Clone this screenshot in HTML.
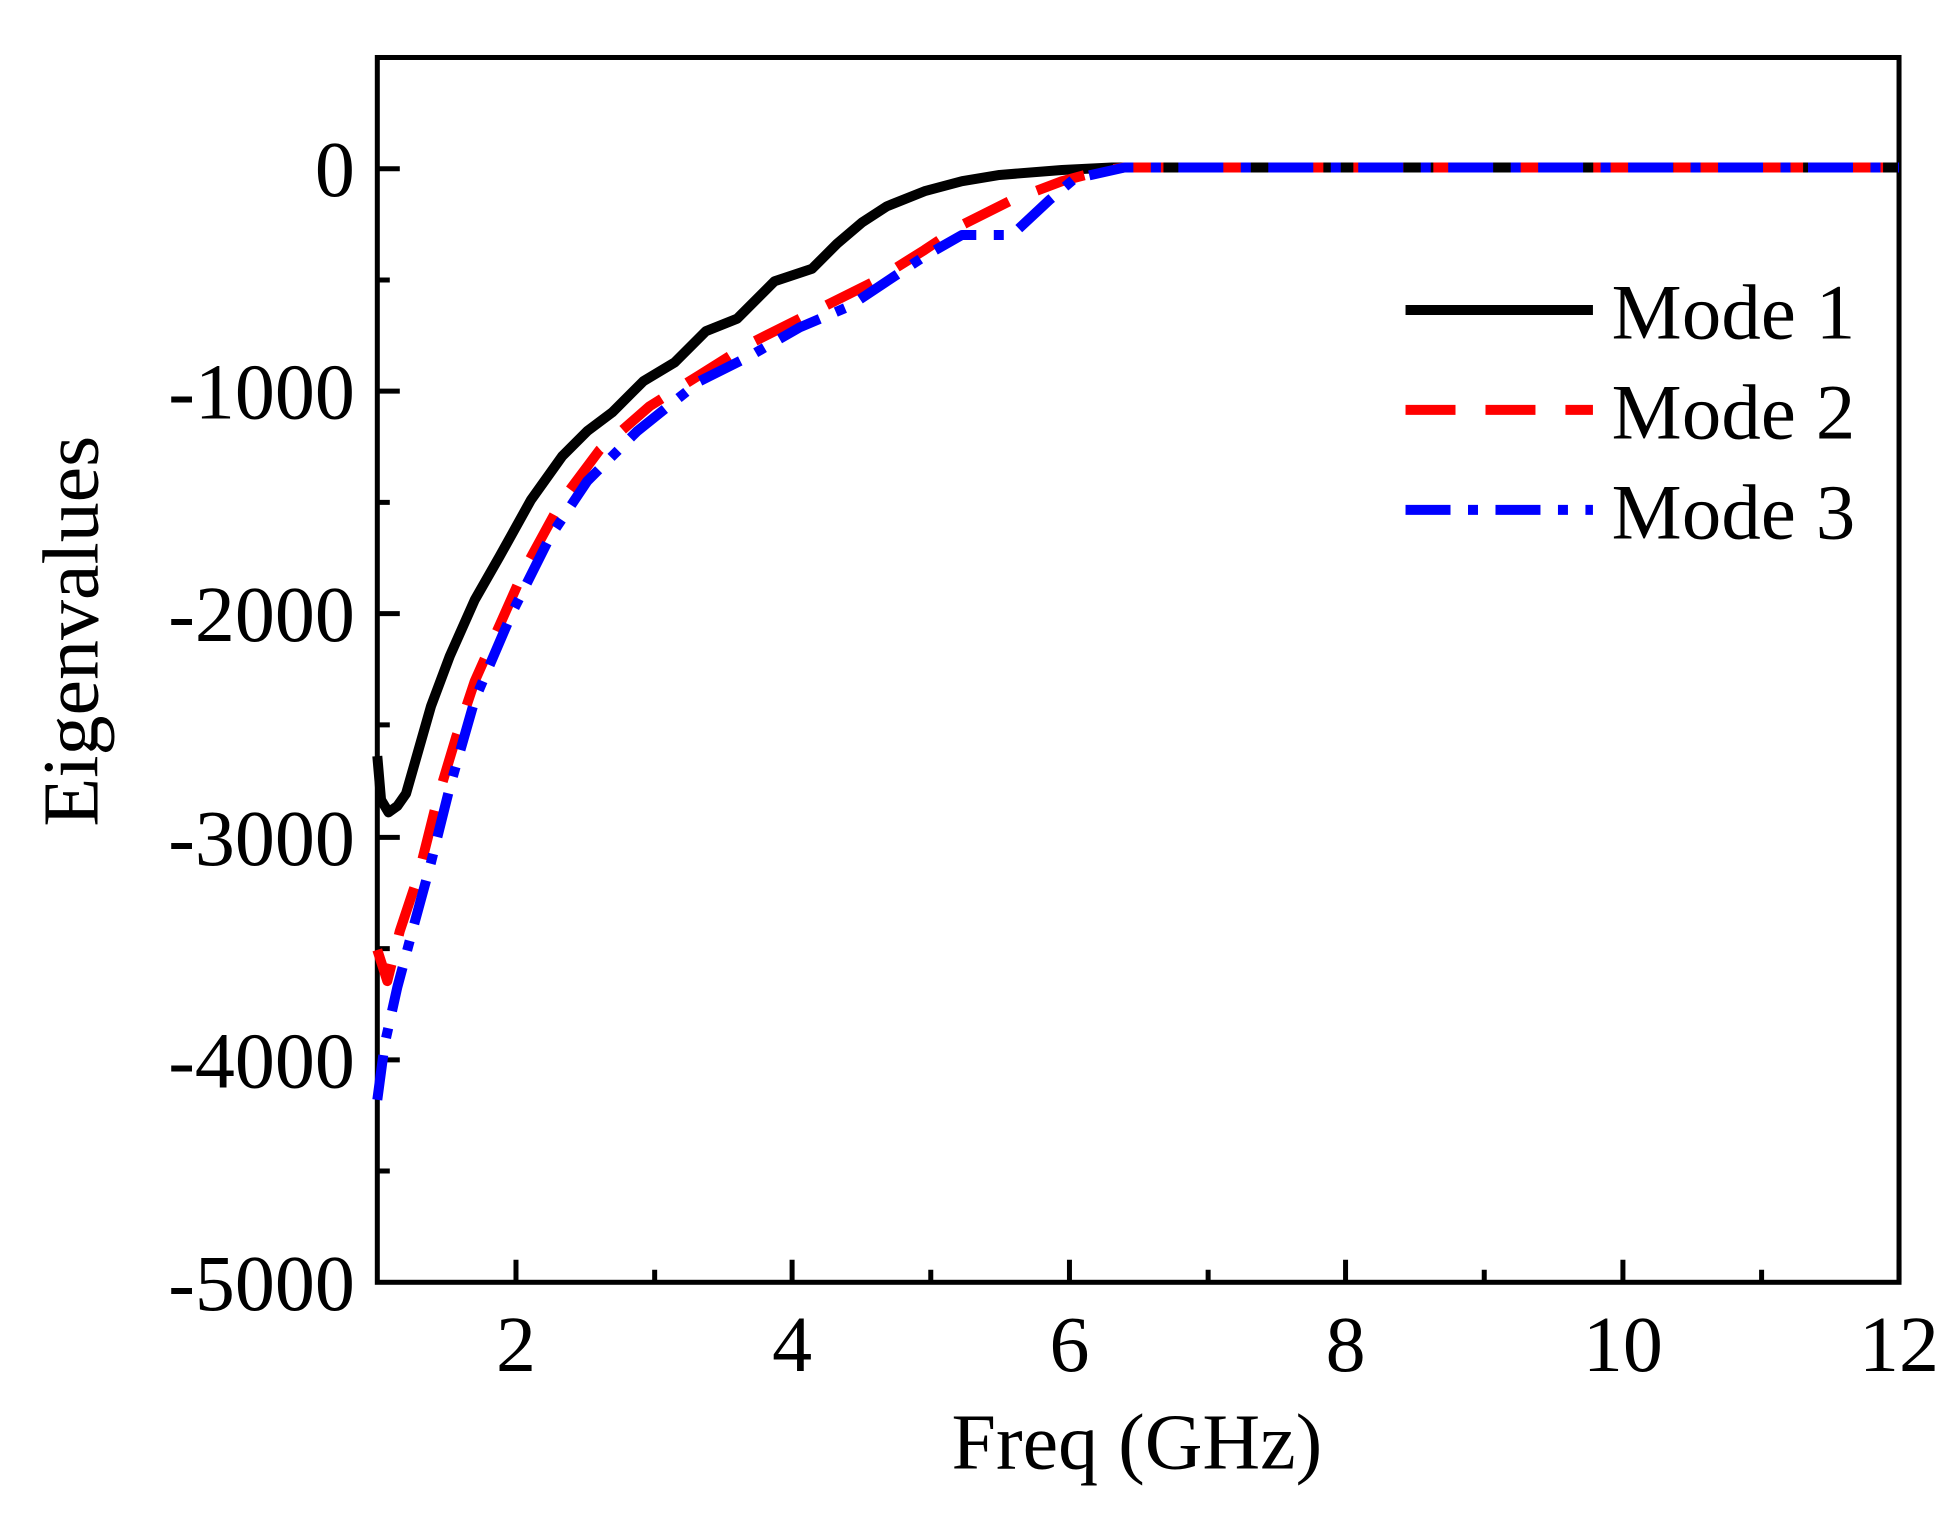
<!DOCTYPE html>
<html><head><style>html,body{margin:0;padding:0;background:#fff;}svg{display:block;}</style></head>
<body>
<svg width="1959" height="1521" viewBox="0 0 1568 1217" preserveAspectRatio="none" xmlns="http://www.w3.org/2000/svg" font-family="Liberation Serif, serif">
<rect width="1568" height="1217" fill="#fff"/>
<g stroke="#000" stroke-width="4">
<path d="M413,1026v-18M634,1026v-18M856,1026v-18M1077,1026v-18M1299,1026v-18M1520,1026v-18"/>
<path d="M524,1026v-10M745,1026v-10M967,1026v-10M1188,1026v-10M1410,1026v-10"/>
<path d="M302,135h18M302,313h18M302,491h18M302,670h18M302,848h18"/>
<path d="M302,46h10M302,224h10M302,402h10M302,580h10M302,759h10M302,937h10"/>
<rect x="302" y="46" width="1218" height="980" fill="none"/>
</g>
<g fill="none" stroke-width="8" stroke-linejoin="round">
<polyline stroke="#000" points="302,605 305,640 311,650 318,645 325,635 335,600 345,565 360,525 380,480 400,445 425,400 450,365 470,345 490,330 515,305 540,290 565,265 590,255 620,225 650,215 670,195 690,178 710,165 740,153 770,145 800,140 850,136 890,134 1520,134"/>
<polyline stroke="#f00" stroke-dasharray="40,24" points="302,760 310,785 320,745 335,700 350,640 365,590 380,545 400,500 420,455 450,400 480,360 520,325 560,300 600,275 640,255 700,225 740,200 770,180 810,160 850,145 880,137 900,134 1520,134"/>
<polyline stroke="#00f" stroke-dasharray="36,14,8,14" points="302,880 308,835 318,790 330,745 345,690 360,630 380,560 410,490 440,430 470,385 510,345 560,305 600,285 640,262 680,245 740,205 770,188 810,188 840,160 860,143 900,134 1520,134"/>
<line x1="1125" y1="248" x2="1275" y2="248" stroke="#000"/>
<line x1="1125" y1="328" x2="1275" y2="328" stroke="#f00" stroke-dasharray="40,24"/>
<line x1="1125" y1="408" x2="1275" y2="408" stroke="#00f" stroke-dasharray="36,14,8,14"/>
</g>
<g font-size="63" fill="#000">
<text x="1290" y="271" textLength="195">Mode 1</text>
<text x="1290" y="351" textLength="195">Mode 2</text>
<text x="1290" y="431" textLength="195">Mode 3</text>
</g>
<g font-size="64" fill="#000" text-anchor="end">
<text x="284" y="157">0</text>
<text x="284" y="335">-1000</text>
<text x="284" y="513">-2000</text>
<text x="284" y="692">-3000</text>
<text x="284" y="870">-4000</text>
<text x="284" y="1048">-5000</text>
</g>
<g font-size="64" fill="#000" text-anchor="middle">
<text x="413" y="1097">2</text>
<text x="634" y="1097">4</text>
<text x="856" y="1097">6</text>
<text x="1077" y="1097">8</text>
<text x="1299" y="1097">10</text>
<text x="1520" y="1097">12</text>
<text x="910" y="1175">Freq (GHz)</text>
<text transform="translate(78,505) rotate(-90)">Eigenvalues</text>
</g>
</svg>
</body></html>
